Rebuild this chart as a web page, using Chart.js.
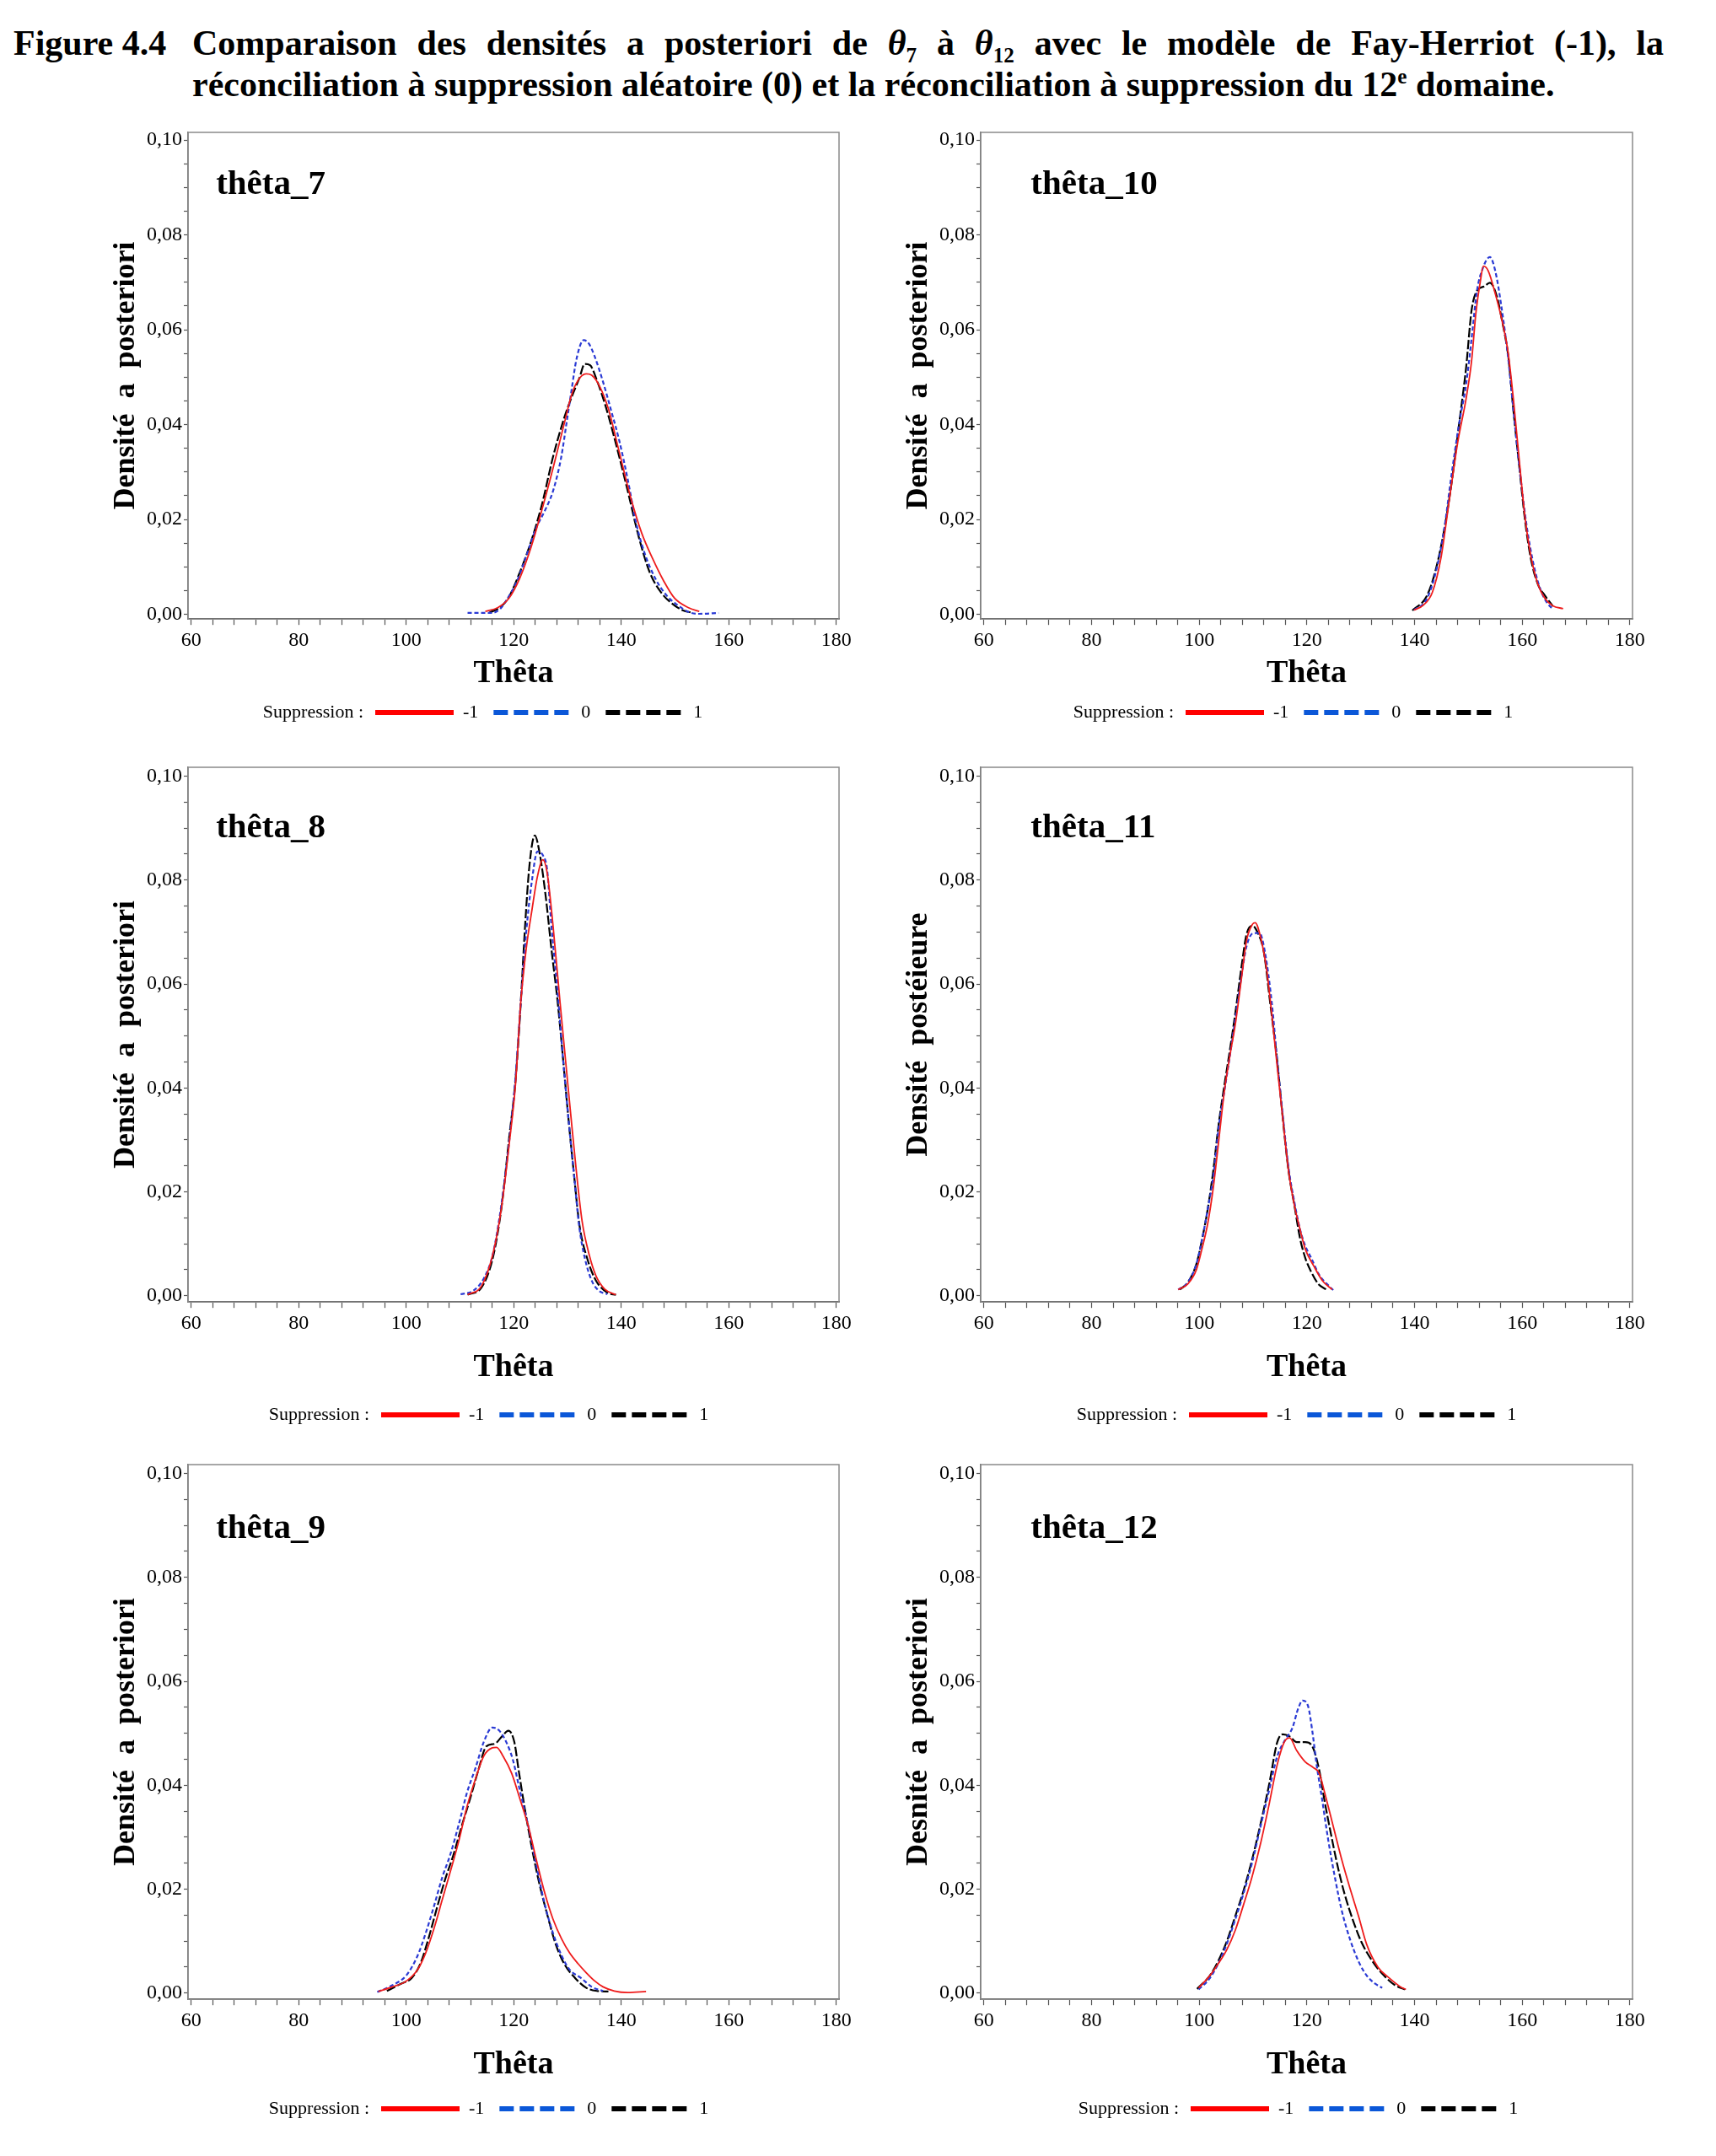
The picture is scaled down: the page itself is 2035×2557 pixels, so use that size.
<!DOCTYPE html>
<html>
<head>
<meta charset="utf-8">
<script src="https://cdn.jsdelivr.net/npm/chart.js@4.4.1/dist/chart.umd.min.js"></script>
<style>
html, body { margin: 0; padding: 0; background: #fff; }
body { width: 2035px; height: 2557px; position: relative; overflow: hidden; font-family: 'Liberation Serif', 'Times New Roman', serif; }
#caption { position: absolute; left: 16px; top: 27px; width: 1957px; font-weight: bold; font-size: 42px; line-height: 49px; color: #000; }
#caption .row1 { display: flex; }
#caption .lab { flex: none; width: 212px; white-space: nowrap; }
#caption .txt { flex: 1; text-align: justify; text-align-last: justify; }
#caption .row2 { padding-left: 212px; white-space: nowrap; }
#caption sub, #caption sup { font-size: 60%; line-height: 0; }
canvas { position: absolute; }
</style>
</head>
<body>
<div id="caption">
  <div class="row1"><span class="lab">Figure 4.4</span><span class="txt">Comparaison des densités a posteriori de <i>θ</i><sub>7</sub> à <i>θ</i><sub>12</sub> avec le modèle de Fay-Herriot (-1), la</span></div>
  <div class="row2">réconciliation à suppression aléatoire (0) et la réconciliation à suppression du 12<sup>e</sup> domaine.</div>
</div>
<script>
// tick labels
const xMajorTicks = [60, 80, 100, 120, 140, 160, 180];
const yMajorTicks = [0, 0.02, 0.04, 0.06, 0.08, 0.10];
const legendLabels = ['-1', '0', '1'];

// theta_7 : [theta, densite]
const theta7_m1 = [[114.7,.0006],[117,.0014],[119.1,.0034],[121.1,.0076],[123.2,.0141],[125.2,.0219],[127.3,.0308],[129.4,.0403],[130.9,.0468],[132.4,.050],[133.5,.0507],[134.5,.0504],[136,.048],[137.6,.0433],[139.6,.0343],[141.7,.0248],[143.8,.0171],[145.8,.0118],[147.9,.007],[149.9,.0034],[152.5,.0014],[154.5,.0006]];
const theta7_0 = [[111.4,.0003],[116,.0003],[117.5,.0012],[118.6,.0029],[120.6,.007],[122.7,.0135],[124.2,.0183],[125.8,.0219],[127.3,.026],[128.8,.033],[129.9,.041],[130.6,.0462],[131.7,.054],[133,.0578],[134,.057],[135,.0545],[136.6,.049],[138.1,.043],[139.6,.0367],[141.2,.0284],[142.7,.0195],[144.3,.013],[146.3,.0076],[148.4,.004],[150.4,.002],[152.5,.0005],[154.5,.0001],[158.1,.0003]];
const theta7_1 = [[115.5,.0004],[117.5,.0015],[119.1,.0037],[121.1,.0088],[123.2,.0153],[125.2,.023],[127.3,.0332],[129.4,.0415],[130.9,.0462],[132.2,.0498],[133.2,.0528],[134.2,.0525],[135.5,.0492],[137.1,.0438],[139.1,.0355],[141.2,.026],[143.2,.0165],[145.3,.0088],[147.4,.0046],[149.4,.0023],[151.5,.0008],[153,.0004]];

// theta_10
const theta10_m1 = [[139.9,.0009],[141.7,.002],[143.3,.0046],[144.9,.0118],[146.4,.0236],[148,.0361],[149.6,.0456],[150.6,.0534],[151.4,.0635],[152.2,.07],[152.8,.0734],[153.7,.0724],[155,.0676],[156.3,.0617],[157.4,.0551],[158.4,.045],[159.5,.032],[160.5,.0207],[161.6,.0124],[162.9,.0064],[164.2,.0034],[165.7,.0018],[167.6,.0012]];
const theta10_0 = [[139.9,.0009],[142.2,.0031],[143.8,.0082],[145.4,.0171],[146.9,.0296],[148.3,.0403],[149.6,.0486],[150.6,.0581],[151.6,.0682],[152.7,.073],[154,.0753],[155,.0724],[156.1,.0652],[157.4,.054],[158.4,.0427],[159.5,.0308],[160.8,.0189],[162.1,.0106],[163.4,.0052],[164.7,.0023],[165.7,.0011]];
const theta10_1 = [[139.6,.0008],[142.2,.0037],[143.8,.0088],[145.4,.0171],[146.9,.0278],[148.3,.0403],[149.6,.0522],[150.6,.0641],[151.6,.0682],[152.9,.0691],[154,.0699],[155.3,.067],[156.3,.0617],[157.4,.0545],[158.4,.0427],[159.5,.0308],[160.5,.0201],[161.6,.0118],[162.9,.0064],[164.2,.004],[165.7,.0017]];

// theta_8
const theta8_m1 = [[111.4,.0002],[114,.0019],[116.1,.008],[117.7,.0169],[119.2,.0297],[120.3,.0405],[121.3,.0565],[122.3,.0667],[123.4,.0744],[124.4,.0807],[125.4,.0839],[126.2,.0814],[127.3,.0712],[128.6,.0565],[129.6,.0456],[130.6,.0348],[131.7,.0233],[132.7,.0144],[134,.008],[135.3,.0038],[136.9,.0013],[139,.0002]];
const theta8_0 = [[110.1,.0003],[112.5,.001],[114.5,.0035],[116.1,.008],[117.7,.0176],[119.2,.0303],[120.3,.0418],[121.3,.0565],[122.3,.0699],[123.4,.0801],[124.4,.0855],[125.5,.0846],[126.2,.082],[127,.0712],[128.1,.059],[129.1,.0463],[130.1,.0348],[131.2,.0233],[132.2,.0131],[133.2,.0073],[134.5,.0029],[135.8,.001],[137.4,.0003]];
const theta8_1 = [[111.4,.0002],[114,.0016],[116.1,.0073],[117.7,.0169],[119.2,.031],[120.3,.0412],[121.3,.0565],[122.1,.0712],[122.9,.0827],[123.9,.0886],[124.9,.0846],[126,.0763],[127,.0667],[128.1,.0571],[129.1,.0463],[130.1,.0348],[131.2,.0233],[132.2,.0137],[133.8,.0067],[135.3,.0029],[137.4,.0006],[139,.0002]];

// theta_11
const theta11_m1 = [[96.1,.0012],[97.9,.0023],[99.5,.0051],[100.5,.009],[101.6,.014],[102.6,.0207],[103.6,.0296],[104.7,.0396],[105.7,.0462],[106.8,.0529],[107.8,.0607],[108.8,.0684],[109.9,.0715],[110.4,.0718],[111.4,.069],[112.5,.0629],[113.5,.054],[114.5,.044],[115.6,.0334],[116.6,.024],[117.7,.0173],[118.7,.0129],[119.7,.009],[121.3,.0057],[122.9,.0029],[124.7,.0012]];
const theta11_0 = [[96.1,.0012],[97.9,.0026],[99.5,.0062],[100.5,.0107],[101.6,.0168],[102.6,.0229],[103.6,.0323],[104.7,.0396],[105.7,.0462],[106.8,.054],[107.8,.0612],[108.8,.0673],[110.1,.0698],[111.2,.0698],[112.2,.0662],[113.5,.0562],[114.5,.0451],[115.6,.034],[116.6,.0246],[117.7,.0179],[118.7,.0129],[119.7,.0096],[120.8,.0073],[122.3,.004],[123.9,.0021],[124.9,.0011]];
const theta11_1 = [[96.4,.0012],[97.9,.0026],[99.5,.0062],[100.5,.0107],[101.6,.0168],[102.6,.024],[103.6,.0329],[104.7,.0407],[105.7,.0473],[106.8,.0551],[107.8,.0629],[108.8,.0696],[109.9,.0712],[110.9,.0698],[112,.0662],[113.2,.0562],[114.5,.0451],[115.6,.0334],[116.6,.024],[117.7,.0173],[118.7,.0112],[119.7,.0073],[120.8,.0046],[122.1,.0023],[123.6,.0012]];

// theta_9
const theta9_m1 = [[94.8,.0003],[97.4,.0012],[100,.0023],[102.1,.0045],[103.6,.0077],[105.2,.0126],[106.7,.018],[108.2,.0234],[109.8,.0294],[111.3,.0359],[112.9,.0413],[114.4,.0456],[116,.0472],[116.8,.0473],[118,.0456],[119.6,.0423],[121.1,.0375],[122.7,.0321],[124.2,.0256],[125.8,.0191],[127.3,.0142],[128.9,.0104],[130.4,.0077],[132,.0056],[133.5,.0039],[135.1,.0023],[136.6,.0012],[138.7,.0004],[141.2,.0001],[144.6,.0003]];
const theta9_0 = [[94.6,.0002],[97.4,.0015],[100,.0034],[102.1,.0072],[103.6,.0115],[105.2,.0169],[106.7,.0223],[108.2,.0267],[109.8,.0326],[111.3,.0386],[112.9,.0434],[114.4,.0483],[116,.0511],[117.3,.0505],[118.6,.0483],[119.8,.045],[121.1,.0391],[122.7,.0321],[124.2,.0245],[125.8,.0169],[127.3,.0115],[128.9,.0072],[130.4,.0045],[132.5,.0029],[134.5,.0012],[136.6,.0004]];
const theta9_1 = [[96.4,.0004],[99,.0018],[101,.0029],[102.6,.0056],[104.1,.0104],[105.7,.0164],[107.2,.0218],[108.8,.0267],[110.3,.0321],[111.9,.0375],[113.4,.0429],[114.9,.0475],[116.5,.048],[117.8,.0494],[119,.0505],[120.1,.0483],[120.9,.0429],[121.9,.0364],[123.2,.0288],[124.7,.0213],[126.3,.0148],[127.8,.0094],[129.4,.0056],[131.4,.0029],[133.5,.001],[135.6,.0004],[137.6,.0003]];

// theta_12
const theta12_m1 = [[99.9,.001],[102,.0034],[103.5,.0056],[105.1,.0083],[106.7,.0121],[108.2,.0169],[109.8,.0223],[111.4,.0288],[113,.0364],[114.5,.044],[115.8,.0483],[116.8,.0491],[118.1,.0467],[119.7,.0445],[121.2,.0434],[122.3,.0423],[123.3,.0386],[124.9,.0321],[126.5,.0256],[128,.0202],[129.6,.0148],[131.1,.0094],[133.2,.005],[135.3,.0029],[137.4,.0012],[138.4,.0007]];
const theta12_0 = [[99.9,.0007],[102,.0029],[103.5,.0056],[105.1,.0094],[106.7,.0142],[108.2,.0191],[109.8,.025],[111.4,.0321],[113,.0391],[114.5,.0456],[116,.0488],[117.3,.051],[118.4,.0548],[119.2,.0563],[120.2,.0553],[121,.0505],[121.8,.044],[122.8,.0375],[123.9,.0299],[125.2,.0223],[126.5,.0158],[128,.0104],[129.6,.0061],[131.1,.0034],[132.7,.0018],[134,.001]];
const theta12_1 = [[99.6,.0008],[102,.0034],[103.5,.0061],[105.1,.0099],[106.7,.0148],[108.2,.0196],[109.8,.0256],[111.4,.0326],[113,.0402],[114.5,.0483],[115.5,.0498],[116.8,.0494],[118.1,.0483],[119.7,.0483],[121,.0475],[122.3,.0429],[123.3,.0369],[124.4,.031],[125.7,.0245],[127,.0191],[128.5,.0142],[130.1,.0099],[132.2,.0061],[134.3,.0034],[136.4,.0015],[138.2,.0007]];

const panels = [
    {label: 'thêta_7',  yTitle: 'Densité  a  posteriori', col: 0, row: 0, legendX: 445,  series: [theta7_m1, theta7_0, theta7_1]},
    {label: 'thêta_10', yTitle: 'Densité  a  posteriori', col: 1, row: 0, legendX: 1406, series: [theta10_m1, theta10_0, theta10_1]},
    {label: 'thêta_8',  yTitle: 'Densité  a  posteriori', col: 0, row: 1, legendX: 452,  series: [theta8_m1, theta8_0, theta8_1]},
    {label: 'thêta_11', yTitle: 'Densité  postéieure',    col: 1, row: 1, legendX: 1410, series: [theta11_m1, theta11_0, theta11_1]},
    {label: 'thêta_9',  yTitle: 'Densité  a  posteriori', col: 0, row: 2, legendX: 452,  series: [theta9_m1, theta9_0, theta9_1]},
    {label: 'thêta_12', yTitle: 'Desnité  a  posteriori', col: 1, row: 2, legendX: 1412, series: [theta12_m1, theta12_0, theta12_1]}
];

// page geometry (px)
const colFrame = [[223, 995], [1163, 1936]];
const colCanvasLeft = [40, 980];
const rowFrame = [[157, 734], [910, 1544], [1737, 2371]];
const rowYRange = [[-0.0010, 0.1016], [-0.0012, 0.1017], [-0.0012, 0.1017]];
const rowTitleGap = [65, 78, 78];
const rowLegendGap = [111, 134, 130];
const labelXByCol = [64.6, 68.7];
const labelYByRow = [0.0905, 0.0900, 0.0893];

const serif = "'Liberation Serif', 'Times New Roman', serif";
const lineColors = ['#ee1c1c', '#2a3ad4', '#000000'];
const lineDashes = [[], [5, 3], [11, 3]];
const legendColors = ['#ff0000', '#0b57d8', '#000000'];
const legendDashes = [[], [17, 7], [17, 7]];
const legendFont = 22;
const legendPad = 18;
const xTitleSize = 38;

function buildTicks(majors, nSub) {
    let out = [];
    for (let i = 0; i < majors.length; i++) {
        out.push({value: majors[i]});
        if (i < majors.length - 1) {
            let step = (majors[i + 1] - majors[i]) / nSub;
            for (let k = 1; k < nSub; k++)
                out.push({value: majors[i] + k * step});
        }
    }
    return out;
}
function isMajor(v, majors) {
    return majors.some(m => Math.abs(m - v) < 1e-9);
}

const framePlugin = {
    id: 'frame',
    afterDraw(chart) {
        const {ctx, chartArea: a} = chart;
        ctx.save();
        ctx.strokeStyle = '#8a8a8a';
        ctx.lineWidth = 1.5;
        ctx.strokeRect(a.left, a.top, a.right - a.left, a.bottom - a.top);
        ctx.restore();
    }
};

const panelLabelPlugin = {
    id: 'panelLabel',
    afterDatasetsDraw(chart, args, opts) {
        const ctx = chart.ctx;
        ctx.save();
        ctx.font = 'bold 41px ' + serif;
        ctx.fillStyle = '#000';
        ctx.textAlign = 'left';
        ctx.textBaseline = 'middle';
        ctx.fillText(opts.text, chart.scales.x.getPixelForValue(opts.x), chart.scales.y.getPixelForValue(opts.y));
        ctx.restore();
    }
};

const legendPlacePlugin = {
    id: 'legendPlace',
    afterLayout(chart, args, opts) {
        const lg = chart.legend;
        const w = lg.right - lg.left, h = lg.bottom - lg.top;
        lg.left = opts.itemsLeft - legendPad;
        lg.right = lg.left + w;
        lg.top = opts.centerY - legendPad - legendFont / 2;
        lg.bottom = lg.top + h;
    },
    afterDraw(chart) {
        const hb = chart.legend.legendHitBoxes[0];
        if (!hb) return;
        const ctx = chart.ctx;
        ctx.save();
        ctx.font = legendFont + 'px ' + serif;
        ctx.fillStyle = '#000';
        ctx.textAlign = 'right';
        ctx.textBaseline = 'middle';
        ctx.fillText('Suppression :', hb.left - 14, hb.top + hb.height / 2);
        ctx.restore();
    }
};

function drawPanel(p) {
    const [fl, fr] = colFrame[p.col];
    const [ft, fb] = rowFrame[p.row];
    const cl = colCanvasLeft[p.col];
    const padTop = 30;
    const axisH = rowTitleGap[p.row] + xTitleSize * 1.2 / 2;
    const legendH = legendFont + legendPad + 10;
    const top = ft - padTop;
    const width = 1020;
    const height = padTop + (fb - ft) + axisH + legendH;

    const canvas = document.createElement('canvas');
    canvas.width = width;
    canvas.height = Math.round(height);
    canvas.style.left = cl + 'px';
    canvas.style.top = top + 'px';
    document.body.appendChild(canvas);

    const datasets = p.series.map((s, i) => ({
        label: legendLabels[i],
        data: s,
        borderColor: lineColors[i],
        backgroundColor: lineColors[i],
        borderDash: lineDashes[i],
        borderWidth: i === 0 ? 1.8 : 2.2,
        pointRadius: 0,
        fill: false,
        cubicInterpolationMode: 'monotone'
    }));

    return new Chart(canvas, {
        type: 'line',
        data: {datasets: datasets},
        plugins: [framePlugin, panelLabelPlugin, legendPlacePlugin],
        options: {
            responsive: false,
            animation: false,
            devicePixelRatio: 1,
            layout: {padding: {top: padTop, left: 0, right: width - (fr - cl), bottom: 0}},
            scales: {
                x: {
                    type: 'linear',
                    min: 59.4,
                    max: 180.5,
                    afterBuildTicks: axis => { axis.ticks = buildTicks(xMajorTicks, 5); },
                    afterFit: axis => { axis.height = axisH; },
                    ticks: {
                        autoSkip: false,
                        maxRotation: 0,
                        padding: 4,
                        color: '#000',
                        font: {family: serif, size: 24},
                        callback: v => isMajor(v, xMajorTicks) ? String(Math.round(v)) : ''
                    },
                    grid: {drawOnChartArea: false, drawTicks: true, tickLength: 7, tickColor: '#555', tickWidth: 1.2},
                    border: {display: true, color: '#555', width: 1.5},
                    title: {display: true, text: 'Thêta', color: '#000', padding: {top: 0, bottom: 0}, font: {family: serif, size: xTitleSize, weight: 'bold', lineHeight: 1.2}}
                },
                y: {
                    type: 'linear',
                    bounds: 'data',
                    min: rowYRange[p.row][0],
                    max: rowYRange[p.row][1],
                    afterBuildTicks: axis => { axis.ticks = buildTicks(yMajorTicks, 4); },
                    afterFit: axis => { axis.width = fl - cl; },
                    ticks: {
                        autoSkip: false,
                        padding: 2,
                        color: '#000',
                        font: {family: serif, size: 24},
                        callback: v => isMajor(v, yMajorTicks) ? v.toFixed(2).replace('.', ',') : ''
                    },
                    grid: {drawOnChartArea: false, drawTicks: true, tickLength: 5, tickColor: '#555', tickWidth: 1.2},
                    border: {display: true, color: '#666', width: 1.5},
                    title: {display: true, text: p.yTitle, color: '#000', padding: {top: 88, bottom: 0}, font: {family: serif, size: 36, weight: 'bold', lineHeight: 1.2}}
                }
            },
            plugins: {
                tooltip: {enabled: false},
                panelLabel: {text: p.label, x: labelXByCol[p.col], y: labelYByRow[p.row]},
                legendPlace: {itemsLeft: p.legendX - cl, centerY: fb + rowLegendGap[p.row] - top},
                legend: {
                    display: true,
                    position: 'bottom',
                    align: 'start',
                    labels: {
                        usePointStyle: true,
                        pointStyle: 'line',
                        pointStyleWidth: 93,
                        padding: legendPad,
                        color: '#000',
                        font: {family: serif, size: legendFont},
                        generateLabels: chart => {
                            let items = Chart.defaults.plugins.legend.labels.generateLabels(chart);
                            items.forEach((it, i) => {
                                it.pointStyle = 'line';
                                it.lineWidth = 6;
                                it.lineDash = legendDashes[i];
                                it.strokeStyle = legendColors[i];
                                it.fillStyle = legendColors[i];
                                it.fontColor = '#000';
                            });
                            return items;
                        }
                    }
                }
            }
        }
    });
}

for (let p of panels) drawPanel(p);
</script>
</body>
</html>
